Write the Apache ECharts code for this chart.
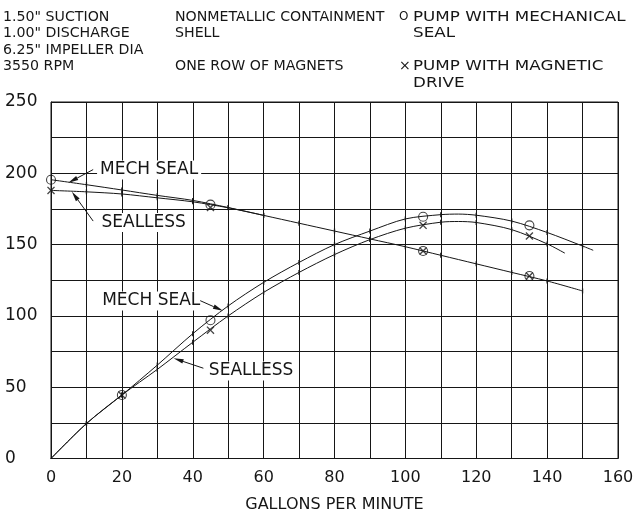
<!DOCTYPE html>
<html><head><meta charset="utf-8">
<script src="https://cdn.jsdelivr.net/npm/echarts@6/dist/echarts.min.js"></script>
<style>html,body{margin:0;padding:0;background:#fff}#c{width:635px;height:512px}</style>
</head><body><div id="c"></div>
<script>
// ---- data ----
const headMechGpm = [0,10,20,30,40,50,60,70,80,90,100,110,120,130,140,150];
const headMechFt  = [195.5,192,188.3,184.5,181,176,170.5,165,159.5,154,148.5,142.5,136.5,130.5,124.5,117.5];
const headSealGpm = [0,10,20,30,40,50,60];
const headSealFt  = [188,187,185.5,182.8,180,175.8,170.5];
const riseMechGpm = [0,10,20,30,40,50,60,70,80,90,100,110,115,120,130,140,150,153];
const riseMechVal = [0,24.5,44.5,65.5,87.5,107,123.5,137.5,150,159.5,168,171,171.4,170.6,166.5,158.5,149,146];
const riseSealGpm = [0,10,20,30,40,50,60,70,80,90,100,110,115,120,130,140,145];
const riseSealVal = [0,24.5,44.5,62.5,81.5,100,116.5,130.5,143,153.5,161.5,165.7,166.2,165.5,160.5,150.5,144];
const mechTestGpm = [0,45,105,135,20,45,105,135];
const mechTestVal = [195.5,178,145.5,128,44.5,97,169.5,163.5];
const sealTestGpm = [0,45,105,135,20,45,105,135];
const sealTestVal = [188,176,145.5,128,44.5,90,163.5,156];
const xTickLabels = [0,20,40,60,80,100,120,140,160];
const yTickLabels = [0,50,100,150,200,250];
const xTitle = 'GALLONS PER MINUTE';
const headerCol1 = ['1.50" SUCTION','1.00" DISCHARGE','6.25" IMPELLER DIA','3550 RPM'];
const headerCol2 = ['NONMETALLIC CONTAINMENT','SHELL','','ONE ROW OF MAGNETS'];
const legendMech = ['O','PUMP WITH MECHANICAL','SEAL'];
const legendSeal = ['×','PUMP WITH MAGNETIC','DRIVE'];
const noteTexts = ['MECH SEAL','SEALLESS','MECH SEAL','SEALLESS'];

// ---- annotation placement (data space) ----
const notePlace = [
  {at:[13.0,202.3], from:[11.9,202.6], to:[4.9,193.4]},
  {at:[13.4,165.5], from:[11.9,166.5], to:[5.9,187.1]},
  {at:[13.6,110.4], from:[42.1,110.7], to:[48.5,103.6]},
  {at:[43.7,61.4],  from:[43.0,63.3],  to:[34.6,70.3]}
];

const FONT = 'DejaVu Sans';
const INK = '#161616';
const pair = (xs, ys) => xs.map((x,i)=>[x, ys[i]]);
const xPath = 'path://M0,0.12L0.12,0L0.5,0.38L0.88,0L1,0.12L0.62,0.5L1,0.88L0.88,1L0.5,0.62L0.12,1L0,0.88L0.38,0.5Z';

function curve(name, xs, ys){
  return {
    name, type:'line', data: pair(xs, ys), smooth:0.3,
    symbol:'rect', symbolSize:(v)=> (v[0]%10===0 && v[0]>0) ? [1.3,5] : 0,
    showSymbol:true,
    lineStyle:{color:INK, width:1}, itemStyle:{color:INK},
    z:3, silent:true
  };
}

const chart = echarts.init(document.getElementById('c'), null, {renderer:'canvas'});
chart.setOption({
  animation:false,
  backgroundColor:'#fff',
  grid:{left:51, right:17, top:102, bottom:53.5, show:true, borderColor:INK, borderWidth:1,
        containLabel:false, outerBoundsMode:'none'},
  xAxis:{
    type:'value', min:0, max:160, interval:10,
    axisLine:{show:true, lineStyle:{color:INK, width:1}}, axisTick:{show:false},
    splitLine:{show:true, lineStyle:{color:INK, width:1}},
    axisLabel:{fontFamily:FONT, fontSize:16, color:INK, margin:11,
      formatter:(v)=> xTickLabels.includes(v) ? String(v) : ''},
    name:xTitle, nameLocation:'middle', nameGap:38,
    nameTextStyle:{fontFamily:FONT, fontSize:16, color:INK}
  },
  yAxis:{
    type:'value', min:0, max:250, interval:25,
    axisLine:{show:true, lineStyle:{color:INK, width:1}}, axisTick:{show:false},
    splitLine:{show:true, lineStyle:{color:INK, width:1}},
    axisLabel:{fontFamily:FONT, fontSize:17, color:INK, align:'left', margin:46,
      formatter:(v)=> yTickLabels.includes(v) ? String(v) : ''}
  },
  series:[
    curve('Head mech', headMechGpm, headMechFt),
    curve('Head sealless', headSealGpm, headSealFt),
    curve('Rise mech', riseMechGpm, riseMechVal),
    curve('Rise sealless', riseSealGpm, riseSealVal),
    {name:'Mech test', type:'scatter', data:pair(mechTestGpm, mechTestVal),
     symbol:'circle', symbolSize:9,
     itemStyle:{color:'rgba(255,255,255,0)', borderColor:INK, borderWidth:1.1}, z:5, silent:true},
    {name:'Sealless test', type:'scatter', data:pair(sealTestGpm, sealTestVal),
     symbol:xPath, symbolSize:8, itemStyle:{color:INK}, z:5, silent:true}
  ]
});

// ---- header + annotations as graphic elements ----
const g = [];
const rowY = [17, 33.5, 50, 66.5, 83];
const txt = (x,y,s,sx,extra)=>({type:'text', x, y, scaleX:sx, z:20, silent:true,
  style:Object.assign({text:s, fontFamily:FONT, fontSize:13.5, fill:INK, textVerticalAlign:'middle', textAlign:'left'}, extra||{})});
headerCol1.forEach((s,i)=> g.push(txt(3, rowY[i], s, 1.05)));
headerCol2.forEach((s,i)=> s && g.push(txt(175, rowY[i], s, 1.05)));
g.push(txt(399, rowY[0], legendMech[0], 1, {fontSize:12}));
g.push(txt(413, rowY[0], legendMech[1], 1.24));
g.push(txt(413, rowY[1], legendMech[2], 1.24));
g.push(txt(399, rowY[3], legendSeal[0], 1, {fontSize:14}));
g.push(txt(413, rowY[3], legendSeal[1], 1.24));
g.push(txt(413, rowY[4], legendSeal[2], 1.24));

const px = (p)=> chart.convertToPixel({gridIndex:0}, p);
noteTexts.forEach((s,i)=>{
  const n = notePlace[i];
  const a = px(n.at), f = px(n.from), t = px(n.to);
  g.push({type:'text', x:a[0], y:a[1], z:30, silent:true,
    style:{text:s, fontFamily:FONT, fontSize:17, fill:INK, textAlign:'left', textVerticalAlign:'middle',
      backgroundColor:'#fff', padding:[1,3,1,3]}});
  const dx = t[0]-f[0], dy = t[1]-f[1], L = Math.hypot(dx,dy), ux = dx/L, uy = dy/L;
  const hl = 10, hw = 2.3;
  const bx = t[0]-ux*hl, by = t[1]-uy*hl;
  g.push({type:'line', z:30, silent:true, shape:{x1:f[0], y1:f[1], x2:bx, y2:by}, style:{stroke:INK, lineWidth:1}});
  g.push({type:'polygon', z:30, silent:true,
    shape:{points:[[t[0],t[1]],[bx-uy*hw, by+ux*hw],[bx+uy*hw, by-ux*hw]]}, style:{fill:INK}});
});
chart.setOption({graphic:g});
</script></body></html>
